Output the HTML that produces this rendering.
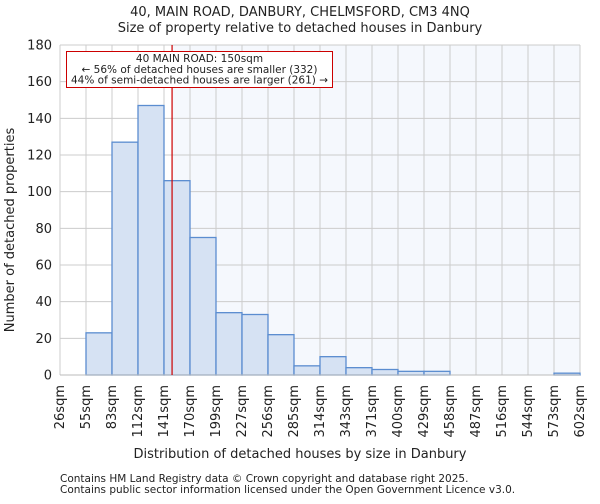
<!DOCTYPE html>
<html><head><meta charset="utf-8"><style>
body{margin:0;background:#fff;font-family:"DejaVu Sans","Liberation Sans",sans-serif;}
svg text{font-family:"DejaVu Sans","Liberation Sans",sans-serif;fill:#222;}
</style></head><body>
<svg id="chart" width="600" height="500" xmlns="http://www.w3.org/2000/svg"></svg>
<script>
const categories=["26sqm","55sqm","83sqm","112sqm","141sqm","170sqm","199sqm","227sqm","256sqm","285sqm","314sqm","343sqm","371sqm","400sqm","429sqm","458sqm","487sqm","516sqm","544sqm","573sqm","602sqm"];
const counts=[0,23,127,147,106,75,34,33,22,5,10,4,3,2,2,0,0,0,0,1];
const yTicks=[0,20,40,60,80,100,120,140,160,180];
const markerValue=150;
const binEdges=[26,55,83,112,141,170,199,227,256,285,314,343,371,400,429,458,487,516,544,573,602];
const NS="http://www.w3.org/2000/svg";
const svg=document.getElementById('chart');
const L=60,R=580,T=45,B=375,yMax=180;
const bw=(R-L)/counts.length;
const xs=i=>L+i*bw;
const ys=v=>B-(v/yMax)*(B-T);
function xv(v){for(let i=0;i<binEdges.length-1;i++){if(v<=binEdges[i+1])return xs(i)+(v-binEdges[i])/(binEdges[i+1]-binEdges[i])*bw;}return R;}
function mk(tag,attrs,txt){const e=document.createElementNS(NS,tag);for(const k in attrs)e.setAttribute(k,attrs[k]);if(txt!==undefined)e.textContent=txt;svg.appendChild(e);return e;}
const mx=xv(markerValue);
let e;
e=mk('rect',{x:mx,y:T,width:R-mx,height:B-T,fill:'#f5f8fd'});

yTicks.forEach(t=>{e=mk('line',{x1:L,x2:R,y1:ys(t),y2:ys(t),stroke:'#cccccc','stroke-width':1});
});
categories.forEach((c,i)=>{e=mk('line',{x1:xs(i),x2:xs(i),y1:T,y2:B,stroke:'#cccccc','stroke-width':1});
});
counts.forEach((v,i)=>{if(v<=0)return;e=mk('rect',{x:xs(i),y:ys(v),width:bw,height:B-ys(v),fill:'#d6e2f3',stroke:'#5b8dd0','stroke-width':1.3});
});
e=mk('line',{x1:L,x2:R,y1:B,y2:B,stroke:'#bbbbbb'});
yTicks.forEach(t=>{e=mk('text',{x:L-8,y:ys(t)+4.5,'text-anchor':'end','font-size':13},t);
});
categories.forEach((c,i)=>{const x=xs(i)+4,y=B+10;e=mk('text',{x:x,y:y,'text-anchor':'end','font-size':13,transform:`rotate(-90 ${x} ${y})`},c);
});
e=mk('line',{x1:mx,x2:mx,y1:T,y2:B,stroke:'#cc0000','stroke-width':1.2});
e=mk('rect',{x:66.5,y:51.5,width:266,height:36,fill:'#fff',stroke:'#cc0000','stroke-width':1});
[["40 MAIN ROAD: 150sqm",62],["← 56% of detached houses are smaller (332)",73],["44% of semi-detached houses are larger (261) →",83.5]].forEach(([t,y])=>{e=mk('text',{x:199.5,y:y,'text-anchor':'middle','font-size':10.5},t);
});
e=mk('text',{x:300,y:16,'text-anchor':'middle','font-size':13},"40, MAIN ROAD, DANBURY, CHELMSFORD, CM3 4NQ");
e=mk('text',{x:300,y:32,'text-anchor':'middle','font-size':13},"Size of property relative to detached houses in Danbury");
e=mk('text',{x:300,y:458,'text-anchor':'middle','font-size':13},"Distribution of detached houses by size in Danbury");
e=mk('text',{x:14,y:230,'text-anchor':'middle','font-size':13,transform:'rotate(-90 14 230)'},"Number of detached properties");
e=mk('text',{x:60,y:482,'font-size':10.5,fill:'#444'},"Contains HM Land Registry data © Crown copyright and database right 2025.");
e=mk('text',{x:60,y:493,'font-size':10.5,fill:'#444'},"Contains public sector information licensed under the Open Government Licence v3.0.");
</script>
</body></html>
